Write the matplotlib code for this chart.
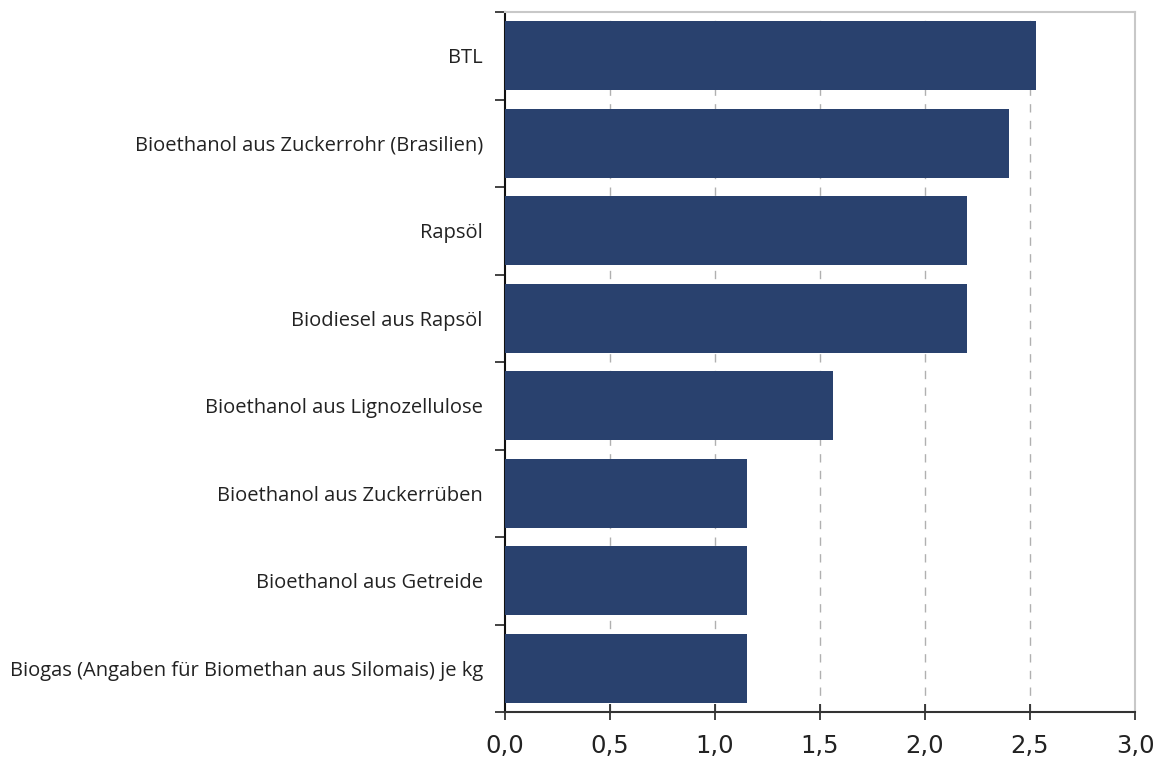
import matplotlib
matplotlib.use("Agg")
import matplotlib.pyplot as plt
from matplotlib.ticker import FixedLocator, FuncFormatter

categories = [
    "BTL",
    "Bioethanol aus Zuckerrohr (Brasilien)",
    "Rapsöl",
    "Biodiesel aus Rapsöl",
    "Bioethanol aus Lignozellulose",
    "Bioethanol aus Zuckerrüben",
    "Bioethanol aus Getreide",
    "Biogas (Angaben für Biomethan aus Silomais) je kg",
]
values = [2.53, 2.40, 2.20, 2.20, 1.56, 1.15, 1.15, 1.15]
xticks = [0.0, 0.5, 1.0, 1.5, 2.0, 2.5, 3.0]

fig = plt.figure(figsize=(11.57, 7.6), dpi=100)
ax = fig.add_axes([505/1157, 1-712/760, (1135-505)/1157, 700/760])

n = len(categories)
ypos = list(range(n))
ax.barh(ypos, values, height=0.79, color="#29416e", zorder=3)
ax.set_ylim(n - 0.5, -0.5)
ax.set_xlim(0, 3.0)

ax.set_yticks(ypos)
ax.set_yticklabels(categories, fontsize=14.5, family="Open Sans", color="#222222")
ax.yaxis.set_minor_locator(FixedLocator([i - 0.5 for i in range(n + 1)]))
ax.tick_params(axis="y", which="major", length=0, pad=16)
ax.tick_params(axis="y", which="minor", length=7, width=1.2, color="#222222", direction="out")

ax.xaxis.set_major_locator(FixedLocator(xticks))
ax.xaxis.set_major_formatter(FuncFormatter(lambda v, p: f"{v:.1f}".replace(".", ",")))
ax.tick_params(axis="x", length=11, width=1.2, direction="inout", labelsize=17.5, pad=10, colors="#222222")

for x in xticks[1:]:
    ax.axvline(x, color="#b0b0b0", linestyle=(0, (6, 6)), linewidth=1, zorder=1)

ax.spines["left"].set_color("#111111")
ax.spines["left"].set_linewidth(1.5)
ax.spines["bottom"].set_color("#333333")
ax.spines["bottom"].set_linewidth(1.5)
ax.spines["top"].set_color("#c8c8c8")
ax.spines["right"].set_color("#c8c8c8")
ax.spines["top"].set_linewidth(1.5)
ax.spines["right"].set_linewidth(1.5)

fig.savefig("out.png", dpi=100)
